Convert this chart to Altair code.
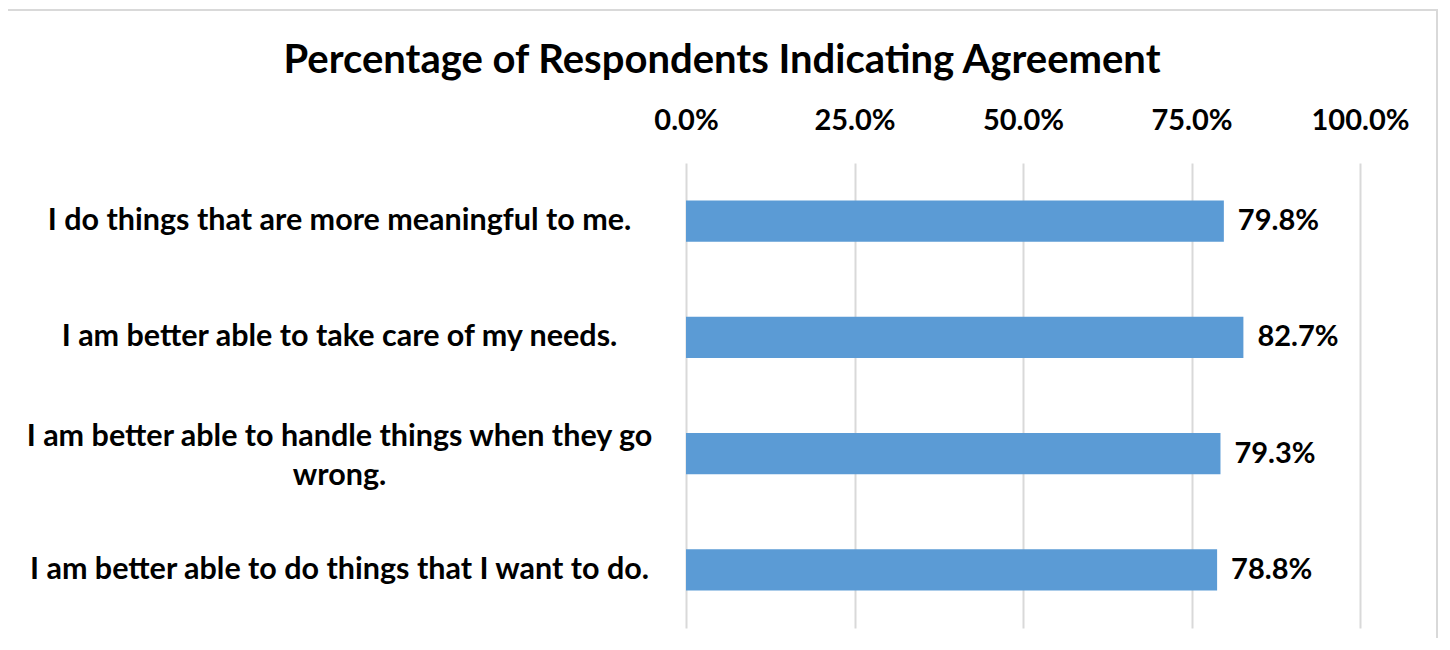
import altair as alt
import pandas as pd

statements = [
    "I do things that are more meaningful to me.",
    "I am better able to take care of my needs.",
    "I am better able to handle things when they go|wrong.",
    "I am better able to do things that I want to do.",
]
values = [79.8, 82.7, 79.3, 78.8]
x_ticks = [0, 25, 50, 75, 100]

df = pd.DataFrame({"statement": statements, "value": values})
df["label"] = df["value"].map(lambda v: f"{v:.1f}%")

FONT = "Lato"
W, H = 674, 465

y_enc = alt.Y(
    "statement:N",
    sort=statements,
    scale=alt.Scale(paddingInner=0.647, paddingOuter=0.3235),
    axis=alt.Axis(
        title=None, ticks=False, domain=False, grid=False, labelAlign="center",
        labelPadding=347, labelLimit=700, labelFontSize=30.5, labelFont=FONT,
        labelFontWeight="bold", labelColor="black", labelLineHeight=39,
        labelExpr="split(datum.label, '|')",
        labelOffset={"condition": {"test": "indexof(datum.value, '|') >= 0", "value": -17}, "value": 0},
    ),
)
x_enc = alt.X(
    "value:Q",
    scale=alt.Scale(domain=[0, 100]),
    axis=alt.Axis(
        orient="top", title=None, values=x_ticks, ticks=False, domain=False,
        labelExpr="format(datum.value, '.1f') + '%'", labelFlush=False,
        labelFontSize=29, labelFont=FONT, labelFontWeight="bold", labelColor="black",
        labelPadding=28, grid=True, gridColor="#d9d9d9", gridWidth=2,
    ),
)

base = alt.Chart(df).encode(x=x_enc, y=y_enc)
bars = base.mark_bar(color="#5b9bd5")
text = base.mark_text(
    align="left", baseline="middle", dx=14, font=FONT, fontSize=29,
    fontWeight="bold", color="black",
).encode(text="label:N")

frame = alt.Chart(df).mark_rect(fill=None, stroke="#d9d9d9", strokeWidth=2, clip=False).encode(
    x=alt.value(-679), x2=alt.value(751), y=alt.value(-153), y2=alt.value(520)
)

chart = alt.layer(frame, bars, text).properties(
    width=W, height=H,
    title=alt.TitleParams(
        "Percentage of Respondents Indicating Agreement", font=FONT, fontSize=40,
        fontWeight="bold", color="black", anchor="middle", dx=-301, offset=-72,
    ),
    padding={"left": 678, "top": 155, "right": 80, "bottom": 10},
    autosize=alt.AutoSizeParams(type="none"),
).configure(background="white").configure_view(stroke="transparent", strokeWidth=0)

chart.save("out.html", embed_options={"renderer": "svg", "actions": False})
